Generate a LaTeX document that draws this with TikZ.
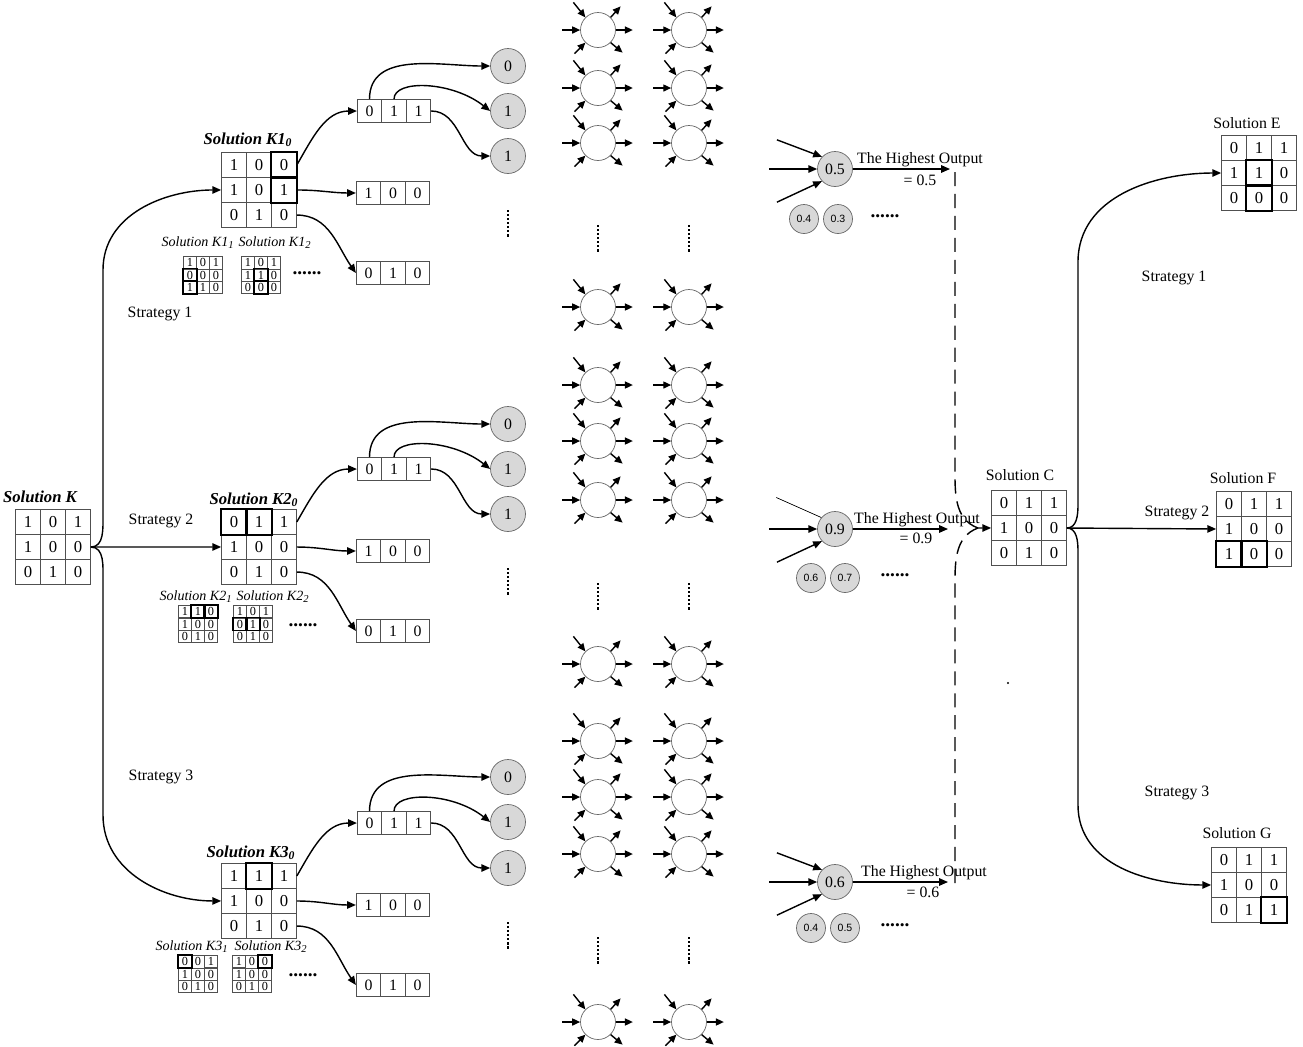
\documentclass[tikz,border=0pt]{standalone}
\usepackage{fontspec}
\setmainfont{Liberation Serif}
\newfontfamily\scoresans{Liberation Sans}
\usepackage{tikz}
\usetikzlibrary{arrows.meta,matrix}
\definecolor{gridline}{RGB}{80,80,80}
\definecolor{ringgray}{RGB}{105,105,105}
\definecolor{bitfill}{RGB}{216,216,216}

\tikzset{
  arr/.style={line width=0.8pt,-{Triangle[length=5pt,width=4.2pt]}},
  narr/.style={line width=0.8pt,-{Triangle[length=4.5pt,width=4pt]}},
  bigcell/.style={draw=gridline,minimum size=0.5cm,inner sep=0pt,font=\fontsize{9.5}{10}\selectfont},
  bigmat/.style={matrix of nodes,nodes={bigcell},column sep=-\pgflinewidth,row sep=-\pgflinewidth,inner sep=0pt},
  chaincell/.style={draw=gridline,minimum width=0.49cm,minimum height=0.46cm,inner sep=0pt,font=\fontsize{9}{10}\selectfont},
  chainmat/.style={matrix of nodes,nodes={chaincell},column sep=-\pgflinewidth,inner sep=0pt},
  tinycell/.style={draw=gridline,minimum width=0.26cm,minimum height=0.245cm,inner sep=0pt,font=\fontsize{7}{7}\selectfont},
  tinymat/.style={matrix of nodes,nodes={tinycell},column sep=-\pgflinewidth,row sep=-\pgflinewidth,inner sep=0pt},
  boldcell/.style={draw=black,line width=1.4pt},
  tinybold/.style={draw=black,line width=1pt},
  bit/.style={circle,draw=ringgray,fill=bitfill,minimum size=0.7cm,inner sep=0pt,font=\fontsize{9}{10}\selectfont},
  score/.style={circle,draw=ringgray,fill=bitfill,minimum size=0.58cm,inner sep=0pt,font=\scoresans\fontsize{6}{7}\selectfont},
  neuron/.style={circle,draw=ringgray,fill=white,minimum size=0.7cm,inner sep=0pt},
  strat/.style={font=\fontsize{9}{10}\selectfont,inner sep=0pt},
  soltitle/.style={font=\fontsize{9.5}{10}\selectfont\bfseries\itshape,inner sep=0pt},
  subtitle/.style={font=\fontsize{8}{9}\selectfont\itshape,inner sep=0pt},
  vdots/.style={densely dotted,line width=1.3pt},
  etc/.style={font=\fontsize{11}{12}\selectfont\bfseries,inner sep=0pt},
  split/.style={dash pattern=on 8pt off 4.5pt,line width=0.8pt},
}

\begin{document}
\begin{tikzpicture}[x=0.02cm,y=-0.02cm]
  \useasboundingbox (0,0) rectangle (1303,1046);

  % starting solution
  \node[soltitle] (ktitle) at (40,497) {Solution K};
  \matrix[bigmat] (k) at (53,547) {1 & 0 & 1\\ 1 & 0 & 0\\ 0 & 1 & 0\\};

  % strategy 1
  \node[soltitle] (k1title) at (248,140) {Solution K1\textsubscript{0}};
  \matrix[bigmat] (k1) at (259,190) {1 & 0 & 0\\ 1 & 0 & 1\\ 0 & 1 & 0\\};
  \node[subtitle] (k1atitle) at (198,243) {Solution K1\textsubscript{1}};
  \node[subtitle] (k1btitle) at (275,243) {Solution K1\textsubscript{2}};
  \matrix[tinymat] (k1a) at (203,275) {1 & 0 & 1\\ 0 & 0 & 0\\ 1 & 1 & 0\\};
  \matrix[tinymat] (k1b) at (261,275) {1 & 0 & 1\\ 1 & 1 & 0\\ 0 & 0 & 0\\};
  \node[etc] (k1etc) at (307,273) {......};
  \matrix[chainmat] (k1r1) at (394,111) {0 & 1 & 1\\};
  \matrix[chainmat] (k1r2) at (393,193) {1 & 0 & 0\\};
  \matrix[chainmat] (k1r3) at (393,273) {0 & 1 & 0\\};
  \node[bit] (k1o1) at (508,66) {0};
  \node[bit] (k1o2) at (508,111) {1};
  \node[bit] (k1o3) at (508,156) {1};
  \node[strat] (s1left) at (160,314) {Strategy 1};

  % strategy 2
  \node[soltitle] (k2title) at (254,500) {Solution K2\textsubscript{0}};
  \matrix[bigmat] (k2) at (259,547) {0 & 1 & 1\\ 1 & 0 & 0\\ 0 & 1 & 0\\};
  \node[subtitle] (k2atitle) at (196,597) {Solution K2\textsubscript{1}};
  \node[subtitle] (k2btitle) at (273,597) {Solution K2\textsubscript{2}};
  \matrix[tinymat] (k2a) at (198,624) {1 & 1 & 0\\ 1 & 0 & 0\\ 0 & 1 & 0\\};
  \matrix[tinymat] (k2b) at (253,624) {1 & 0 & 1\\ 0 & 1 & 0\\ 0 & 1 & 0\\};
  \node[etc] (k2etc) at (303,625) {......};
  \matrix[chainmat] (k2r1) at (394,469) {0 & 1 & 1\\};
  \matrix[chainmat] (k2r2) at (393,551) {1 & 0 & 0\\};
  \matrix[chainmat] (k2r3) at (393,631) {0 & 1 & 0\\};
  \node[bit] (k2o1) at (508,424) {0};
  \node[bit] (k2o2) at (508,469) {1};
  \node[bit] (k2o3) at (508,514) {1};
  \node[strat] (s2left) at (161,521) {Strategy 2};

  % strategy 3
  \node[soltitle] (k3title) at (251,853) {Solution K3\textsubscript{0}};
  \matrix[bigmat] (k3) at (259,901) {1 & 1 & 1\\ 1 & 0 & 0\\ 0 & 1 & 0\\};
  \node[subtitle] (k3atitle) at (192,947) {Solution K3\textsubscript{1}};
  \node[subtitle] (k3btitle) at (271,947) {Solution K3\textsubscript{2}};
  \matrix[tinymat] (k3a) at (198,974) {0 & 0 & 1\\ 1 & 0 & 0\\ 0 & 1 & 0\\};
  \matrix[tinymat] (k3b) at (252,974) {1 & 0 & 0\\ 1 & 0 & 0\\ 0 & 1 & 0\\};
  \node[etc] (k3etc) at (303,975) {......};
  \matrix[chainmat] (k3r1) at (394,823) {0 & 1 & 1\\};
  \matrix[chainmat] (k3r2) at (393,905) {1 & 0 & 0\\};
  \matrix[chainmat] (k3r3) at (393,985) {0 & 1 & 0\\};
  \node[bit] (k3o1) at (508,777) {0};
  \node[bit] (k3o2) at (508,822) {1};
  \node[bit] (k3o3) at (508,868) {1};
  \node[strat] (s3left) at (161,777) {Strategy 3};

  % bold frames on changed cells
  \foreach \cell in {k1-1-3,k1-2-3,k2-1-1,k2-1-2,k3-1-2}
    \draw[boldcell] (\cell.north west) rectangle (\cell.south east);
  \foreach \cell in {k1a-2-1,k1a-3-1,k1b-2-2,k1b-3-2,k2a-1-2,k2a-1-3,k2b-2-1,k2b-2-2,k3a-1-1,k3b-1-3}
    \draw[tinybold] (\cell.north west) rectangle (\cell.south east);

  % branches out of K
  \draw[arr] (k-2-3.east) to[out=0,in=-90] (103,515) -- (103,270) to[out=90,in=180] (k1-2-1.west);
  \draw[arr] (k-2-3.east) -- (k2-2-1.west);
  \draw[arr] (k-2-3.east) to[out=0,in=90] (103,580) -- (103,815) to[out=-90,in=180] (k3-2-1.west);

  % rows into chains, chains into bits
  \foreach \s in {1,2,3} {
    \draw[arr] (k\s-1-3.east) to[out=60,in=180] (k\s r1-1-1.west);
    \draw[arr] (k\s-2-3.east) to[out=0,in=180] (k\s r2-1-1.west);
    \draw[arr] (k\s-3-3.east) to[out=0,in=125] (k\s r3-1-1.west);
    \draw[arr] (k\s r1-1-1.north) to[out=90,in=180] (k\s o1.west);
    \draw[arr] (k\s r1-1-2.north) .. controls +(0,-20) and +(-38,-30) .. (k\s o2.west);
    \draw[arr] (k\s r1-1-3.east) to[out=0,in=180] (k\s o3.west);
  }
  \foreach \y in {210,568,922}
    \draw[vdots] (508,\y) -- ++(0,28);

  % hidden layers
  \foreach \colname/\x in {a/598,b/689}
    \foreach \y [count=\i] in {30,88,143,307,385,441,500,664,741,797,854,1022} {
      \node[neuron] (\colname\i) at (\x,\y) {};
      \draw[narr] (\colname\i.west) ++(-18,0) -- (\colname\i.west);
      \draw[narr] (\colname\i.135) ++(-12,-15) -- (\colname\i.135);
      \draw[narr] (\colname\i.225) ++(-11,11) -- (\colname\i.225);
      \draw[narr] (\colname\i.east) -- ++(17,0);
      \draw[narr] (\colname\i.45) -- ++(10,-11);
      \draw[narr] (\colname\i.-45) -- ++(12,10);
    }
  \foreach \x in {598,689}
    \foreach \y in {225,583,937}
      \draw[vdots] (\x,\y) -- ++(0,28);

  % outputs
  \node[bit] (out1) at (835,169) {0.5};
  \node[bit] (out2) at (835,529) {0.9};
  \node[bit] (out3) at (835,882) {0.6};
  \foreach \o in {1,3} {
    \draw[arr] (out\o.137) ++(-45,-17) -- (out\o.137);
    \draw[arr] (out\o.223) ++(-45,21) -- (out\o.223);
  }
  \draw[line width=0.4pt] (out2.140) ++(-45,-20) -- (out2.140);
  \draw[arr] (out2.223) ++(-45,21) -- (out2.223);
  \foreach \o in {1,2,3}
    \draw[arr] (out\o.west) ++(-48,0) -- (out\o.west);
  \coordinate (h1) at (950,169);
  \coordinate (h2) at (948,529);
  \coordinate (h3) at (948,882);
  \draw[arr] (out1) -- (h1);
  \draw[arr] (out2) -- (h2);
  \draw[arr] (out3) -- (h3);
  \node[strat] (hi1) at (920,160) {The Highest Output};
  \node[strat] (eq1) at (920,180) {= 0.5};
  \node[strat] (hi2) at (917,520) {The Highest Output};
  \node[strat] (eq2) at (916,538) {= 0.9};
  \node[strat] (hi3) at (924,873) {The Highest Output};
  \node[strat] (eq3) at (923,892) {= 0.6};
  \node[score] (sc1a) at (804,219) {0.4};
  \node[score] (sc1b) at (838,219) {0.3};
  \node[etc] (sc1etc) at (885,216) {......};
  \node[score] (sc2a) at (811,578) {0.6};
  \node[score] (sc2b) at (845,578) {0.7};
  \node[etc] (sc2etc) at (895,575) {......};
  \node[score] (sc3a) at (811,928) {0.4};
  \node[score] (sc3b) at (845,928) {0.5};
  \node[etc] (sc3etc) at (895,925) {......};

  % merge into solution C
  \coordinate (top) at (955,172);
  \coordinate (bot) at (955,883);
  \coordinate (meet) at (978,528);
  \draw[split] (top) -- (955,465) to[out=-90,in=160] (meet);
  \draw[split] (bot) -- (955,590) to[out=90,in=200] (meet);
  \node[strat] (ctitle) at (1020,475) {Solution C};
  \matrix[bigmat] (solc) at (1029,528) {0 & 1 & 1\\ 1 & 0 & 0\\ 0 & 1 & 0\\};
  \draw[arr] (meet) -- (solc-2-1.west);
  \fill (1008,683) circle (0.6pt);

  % final strategies
  \node[strat] (etitle) at (1247,123) {Solution E};
  \matrix[bigmat] (sole) at (1259,173) {0 & 1 & 1\\ 1 & 1 & 0\\ 0 & 0 & 0\\};
  \node[strat] (ftitle) at (1243,478) {Solution F};
  \matrix[bigmat] (solf) at (1254,529) {0 & 1 & 1\\ 1 & 0 & 0\\ 1 & 0 & 0\\};
  \node[strat] (gtitle) at (1237,833) {Solution G};
  \matrix[bigmat] (solg) at (1249,885) {0 & 1 & 1\\ 1 & 0 & 0\\ 0 & 1 & 1\\};
  \foreach \cell in {sole-2-2,sole-3-2,solf-3-1,solf-3-2,solg-3-3}
    \draw[boldcell] (\cell.north west) rectangle (\cell.south east);
  \draw[arr] (solc-2-3.east) to[out=0,in=-90] (1078,505) -- (1078,262) to[out=90,in=180] (sole-2-1.west);
  \draw[arr] (solc-2-3.east) -- (solf-2-1.west);
  \draw[arr] (solc-2-3.east) to[out=0,in=90] (1078,551) -- (1078,805) to[out=-90,in=180] (solg-2-1.west);
  \node[strat] (s1right) at (1174,278) {Strategy 1};
  \node[strat] (s2right) at (1177,513) {Strategy 2};
  \node[strat] (s3right) at (1177,793) {Strategy 3};
\end{tikzpicture}
\end{document}
